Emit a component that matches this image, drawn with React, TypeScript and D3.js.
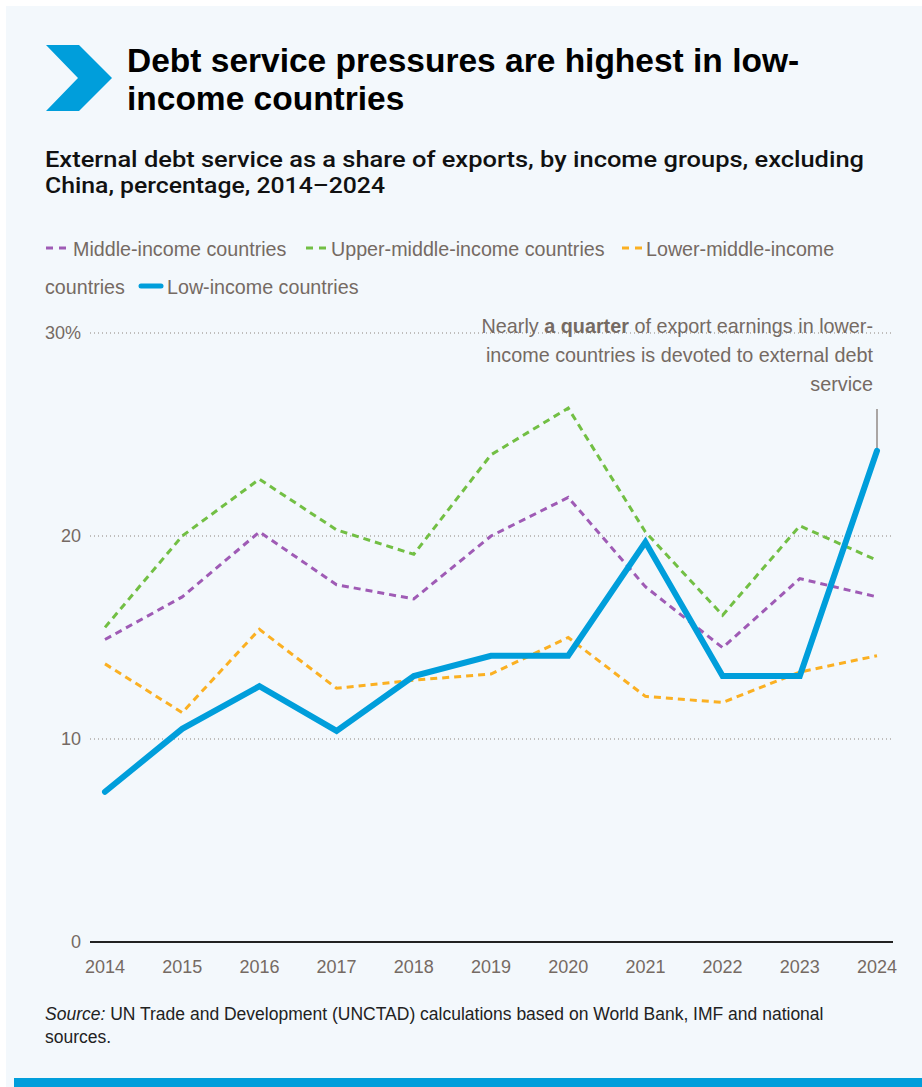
import React from "react";
import * as d3 from "d3";

const years = [2014, 2015, 2016, 2017, 2018, 2019, 2020, 2021, 2022, 2023, 2024];
const middleIncome = [14.9, 17.0, 20.2, 17.6, 16.9, 20.0, 21.9, 17.5, 14.5, 17.9, 17.0];
const upperMiddleIncome = [15.5, 20.0, 22.8, 20.3, 19.1, 24.0, 26.3, 20.2, 16.1, 20.5, 18.8];
const lowerMiddleIncome = [13.7, 11.3, 15.4, 12.5, 12.9, 13.2, 15.0, 12.1, 11.8, 13.3, 14.1];
const lowIncome = [7.4, 10.5, 12.6, 10.4, 13.1, 14.1, 14.1, 19.7, 13.1, 13.1, 24.2];
const yTicks = [0, 10, 20, 30];
const yTickLabels = ["0", "10", "20", "30%"];

const W = 922;
const H = 1087;
const GRAY = "#756a63";
const FONT = "'Liberation Sans', Arial, Helvetica, sans-serif";
const ROBOTO = "Roboto, 'Liberation Sans', Arial, sans-serif";

const series = [
  { name: "Middle-income countries", values: middleIncome, color: "#9f5bb5", dashed: true },
  { name: "Upper-middle-income countries", values: upperMiddleIncome, color: "#72bf44", dashed: true },
  { name: "Lower-middle-income countries", values: lowerMiddleIncome, color: "#fbb022", dashed: true },
  { name: "Low-income countries", values: lowIncome, color: "#009edb", dashed: false },
];

export default function App() {
  const x = d3.scaleLinear().domain([2014, 2024]).range([105, 877]);
  const y = d3.scaleLinear().domain([0, 30]).range([942, 333]);
  const line = d3
    .line<number>()
    .x((_, i) => x(years[i]))
    .y((d) => y(d));

  const last = lowIncome[lowIncome.length - 1];

  return (
    <svg
      width={W}
      height={H}
      viewBox={`0 0 ${W} ${H}`}
      style={{ position: "absolute", left: 0, top: 0, display: "block" }}
    >
      <rect x={0} y={0} width={W} height={H} fill="#ffffff" />
      <rect x={6} y={6} width={W - 6} height={H - 6} fill="#f3f8fc" />
      <rect x={14} y={1078} width={W - 14} height={9} fill="#009edb" />

      {/* chevron */}
      <polygon points="46,45 79,45 112,78 79,111 46,111 78,78" fill="#009edb" />

      {/* title */}
      <text fontFamily={FONT} fontWeight={700} fontSize={33.5} fill="#000">
        <tspan x={127} y={72}>Debt service pressures are highest in low-</tspan>
        <tspan x={127} y={110}>income countries</tspan>
      </text>

      {/* subtitle */}
      <text fontFamily={ROBOTO} fontWeight={500} fontSize={22.5} fill="#111">
        <tspan x={45} y={167} textLength={819} lengthAdjust="spacingAndGlyphs">
          External debt service as a share of exports, by income groups, excluding
        </tspan>
        <tspan x={45} y={193} textLength={340} lengthAdjust="spacingAndGlyphs">
          China, percentage, 2014–2024
        </tspan>
      </text>

      {/* legend */}
      <g fontFamily={FONT} fontSize={19.7} fill={GRAY}>
        <line x1={46} x2={68} y1={248} y2={248} stroke={series[0].color} strokeWidth={3} strokeDasharray="7,6" />
        <text x={73} y={256}>Middle-income countries</text>
        <line x1={306} x2={328} y1={248} y2={248} stroke={series[1].color} strokeWidth={3} strokeDasharray="7,6" />
        <text x={331} y={256}>Upper-middle-income countries</text>
        <line x1={622} x2={644} y1={248} y2={248} stroke={series[2].color} strokeWidth={3} strokeDasharray="7,6" />
        <text x={646} y={256}>Lower-middle-income</text>
        <text x={45} y={294}>countries</text>
        <line x1={141} x2={161} y1={286} y2={286} stroke={series[3].color} strokeWidth={5} strokeLinecap="round" />
        <text x={167} y={294}>Low-income countries</text>
      </g>

      {/* gridlines */}
      {yTicks.map((t) =>
        t === 0 ? null : (
          <line
            key={"g" + t}
            x1={90}
            x2={893}
            y1={y(t)}
            y2={y(t)}
            stroke="#8c837d"
            strokeWidth={1}
            strokeDasharray="1,3"
          />
        )
      )}
      <line x1={90} x2={893} y1={y(0)} y2={y(0)} stroke="#222" strokeWidth={2} />

      {/* y labels */}
      <g fontFamily={FONT} fontSize={18} fill={GRAY} textAnchor="end">
        {yTicks.map((t, i) => (
          <text key={"yl" + t} x={81} y={y(t)} dy="0.36em">
            {yTickLabels[i]}
          </text>
        ))}
      </g>

      {/* x labels */}
      <g fontFamily={FONT} fontSize={18} fill={GRAY} textAnchor="middle">
        {years.map((yr) => (
          <text key={"xl" + yr} x={x(yr)} y={973}>
            {yr}
          </text>
        ))}
      </g>

      {/* annotation */}
      <g fontFamily={FONT} fontSize={19.8} fill={GRAY} textAnchor="end">
        <text x={873} y={333}>
          Nearly <tspan fontWeight={700}>a quarter</tspan> of export earnings in lower-
        </text>
        <text x={873} y={362}>income countries is devoted to external debt</text>
        <text x={873} y={391}>service</text>
      </g>
      <line x1={x(2024)} x2={x(2024)} y1={409} y2={y(last)} stroke="#7a6f69" strokeWidth={1.2} />

      {/* series */}
      {series.map((s) => (
        <path
          key={s.name}
          d={line(s.values) || ""}
          fill="none"
          stroke={s.color}
          strokeWidth={s.dashed ? 3 : 6}
          strokeDasharray={s.dashed ? "7,5" : undefined}
          strokeLinejoin="miter"
          strokeLinecap={s.dashed ? "butt" : "round"}
        />
      ))}

      {/* source */}
      <g fontFamily={FONT} fontSize={17.5} fill="#222">
        <text x={45} y={1020}>
          <tspan fontStyle="italic">Source:</tspan> UN Trade and Development (UNCTAD) calculations based on World Bank, IMF and national
        </text>
        <text x={45} y={1043}>sources.</text>
      </g>
    </svg>
  );
}
